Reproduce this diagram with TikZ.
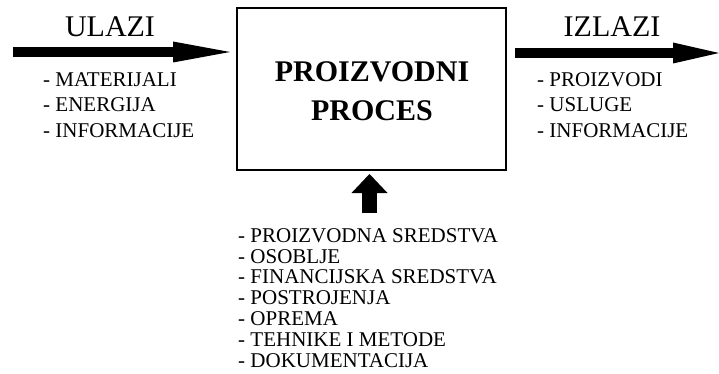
\documentclass[tikz,border=0pt]{standalone}
\usepackage{fontspec}
\setmainfont{Liberation Serif}
\usepackage{tikz}
\usetikzlibrary{positioning,arrows.meta,calc}
\tikzset{
  box/.style={rectangle, draw=black, line width=2pt, minimum width=269pt, minimum height=162pt, inner sep=0pt},
  title/.style={align=center, inner sep=0pt, font={\fontsize{30}{39}\selectfont\bfseries}},
  head/.style={inner sep=0pt, font={\fontsize{30}{30}\selectfont}},
  list/.style={align=left, inner sep=0pt, font={\fontsize{21}{25.3}\selectfont}},
  bigarrow/.style={line width=10pt, -{Triangle[length=#1, width=21pt, line width=0pt]}},
  uparrow/.style={line width=15pt, -{Triangle[length=19pt, width=36pt, line width=0pt]}}
}

\begin{document}
\begin{tikzpicture}[x=1pt, y=-1pt]
  \useasboundingbox (0,0) rectangle (719,374);
  \node[box] (Proces) at (371.5,89) {};
  \node[title, anchor=north] (Title) at (372,61.5) {PROIZVODNI\\PROCES};

  % ulazi
  \coordinate (InStart) at (13,52);
  \draw[bigarrow=57pt, shorten >=6pt] (InStart) -- (InStart -| Proces.west);
  \node[head, anchor=base] (Ulazi) at (110,37) {ULAZI};
  \node[list, anchor=north west] (InList) at (43,72.5) {- MATERIJALI\\- ENERGIJA\\- INFORMACIJE};

  % izlazi
  \coordinate (OutEnd) at (719,53);
  \draw[bigarrow=46pt, shorten <=8pt] (OutEnd -| Proces.east) -- (OutEnd);
  \node[head, anchor=base] (Izlazi) at (612,37) {IZLAZI};
  \node[list, anchor=north west] (OutList) at (537,72.5) {- PROIZVODI\\- USLUGE\\- INFORMACIJE};

  % resursi
  \coordinate (ResStart) at (369.5,213);
  \draw[uparrow, shorten >=3pt] (ResStart) -- (ResStart |- Proces.south);
  \node[list, anchor=north west, font={\fontsize{21}{20.9}\selectfont}] (ResList) at (238,228)
    {- PROIZVODNA SREDSTVA\\- OSOBLJE\\- FINANCIJSKA SREDSTVA\\- POSTROJENJA\\- OPREMA\\- TEHNIKE I METODE\\- DOKUMENTACIJA};
\end{tikzpicture}
\end{document}
